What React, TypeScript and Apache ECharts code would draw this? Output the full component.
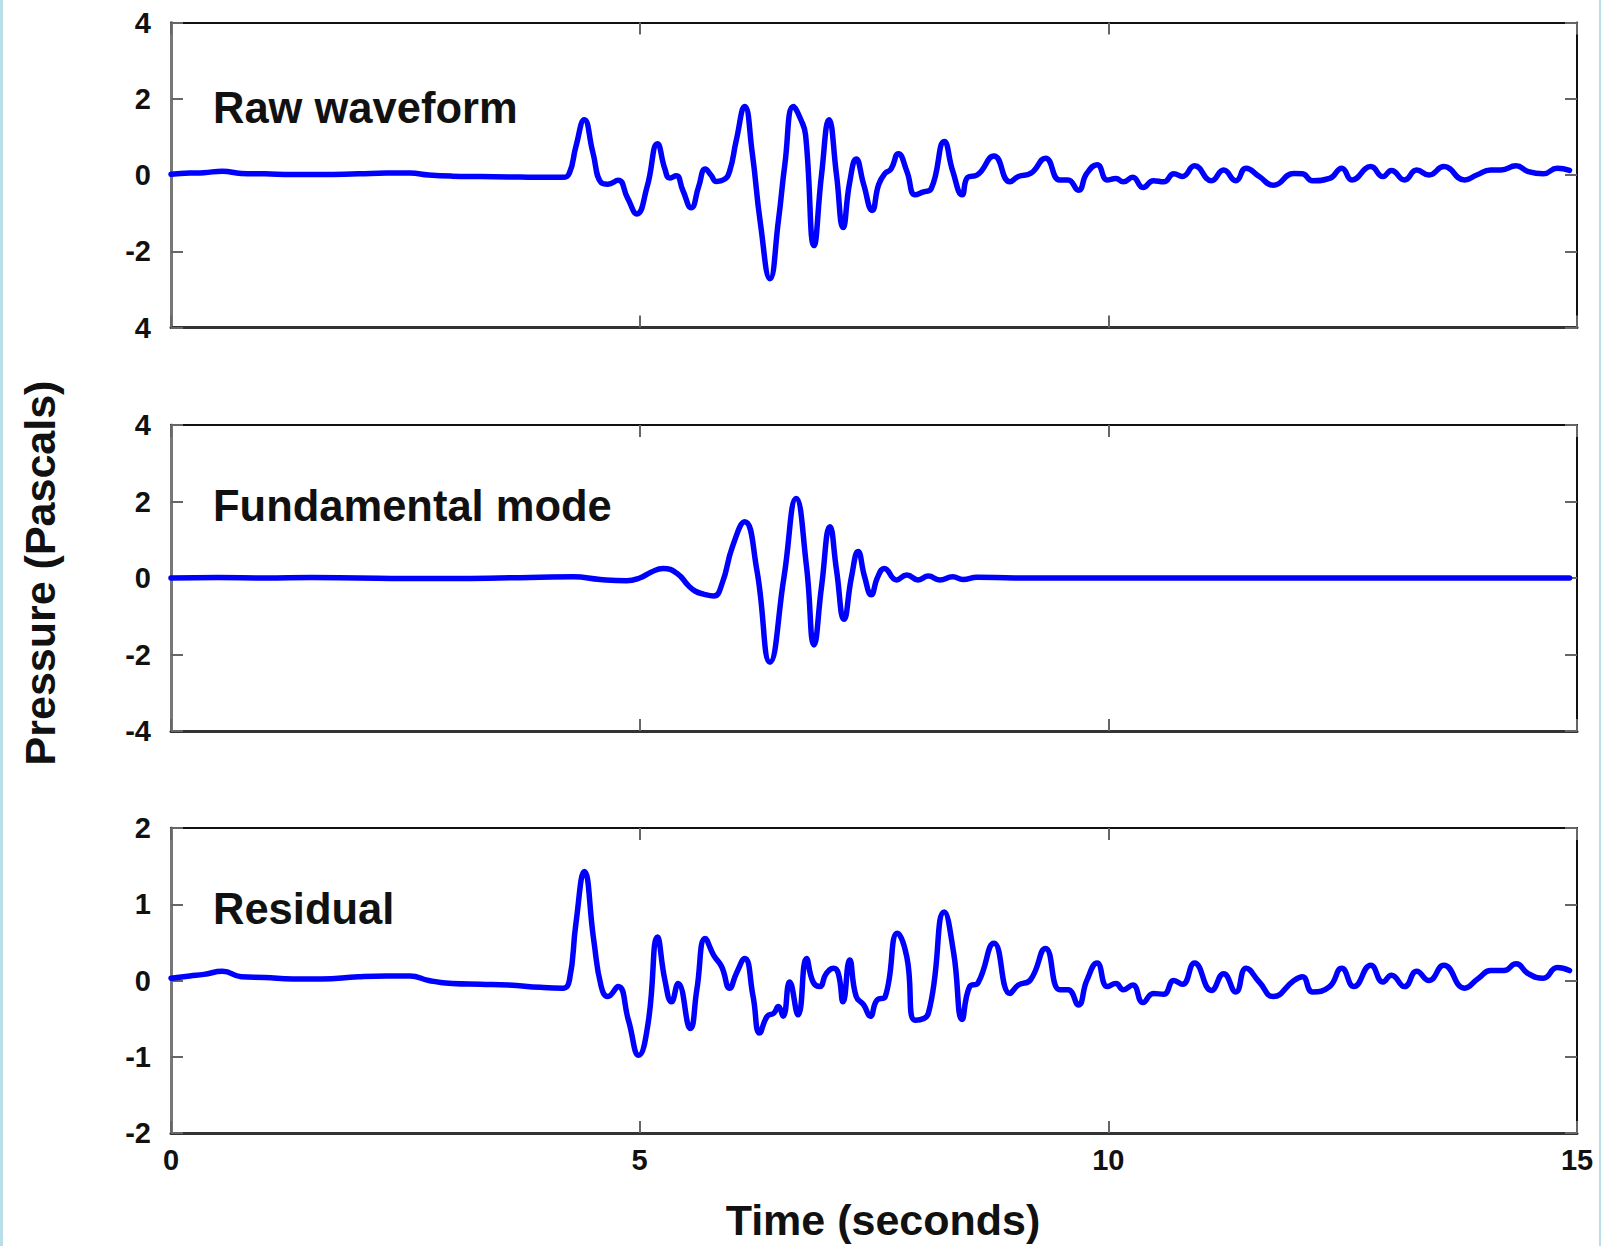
import React, { useEffect, useRef } from "react";
import * as echarts from "echarts";

// ---- Data (time in seconds, pressure in Pascals) ----
const rawWaveform: [number, number][] = [
  [0, 0.02], [0.2, 0.05], [0.35, 0.06], [0.55, 0.1], [0.75, 0.04], [1.0, 0.03], [1.3, 0.01], [1.6, 0.01],
  [2.0, 0.03], [2.3, 0.05], [2.55, 0.05], [2.75, 0.0], [3.0, -0.03], [3.3, -0.04], [3.6, -0.05], [3.9, -0.06],
  [4.18, -0.06], [4.25, 0.05], [4.32, 0.75], [4.41, 1.45], [4.5, 0.6], [4.59, -0.2], [4.66, -0.24], [4.77, -0.14], [4.87, -0.6],
  [4.97, -1.02], [5.08, -0.3], [5.19, 0.82], [5.27, 0.15], [5.32, -0.08], [5.39, -0.02], [5.46, -0.4], [5.55, -0.86],
  [5.63, -0.3], [5.7, 0.16], [5.76, 0.0], [5.82, -0.17], [5.9, -0.12], [5.96, 0.1], [6.03, 0.9], [6.12, 1.8],
  [6.2, 0.6], [6.29, -1.3], [6.39, -2.72], [6.48, -1.2], [6.55, 0.3], [6.64, 1.8], [6.72, 1.45], [6.77, 1.05],
  [6.86, -1.85], [6.94, 0.0], [7.02, 1.45], [7.1, 0.0], [7.17, -1.38], [7.24, -0.2], [7.31, 0.42], [7.39, -0.25],
  [7.48, -0.93], [7.55, -0.25], [7.62, 0.05], [7.68, 0.15], [7.76, 0.56], [7.85, 0.1], [7.94, -0.52], [8.02, -0.45],
  [8.11, -0.36], [8.25, 0.88], [8.34, 0.1], [8.44, -0.52], [8.5, -0.06], [8.6, 0.0], [8.78, 0.5], [8.95, -0.18],
  [9.04, -0.04], [9.17, 0.04], [9.33, 0.44], [9.48, -0.13], [9.57, -0.13], [9.68, -0.4], [9.77, 0.04], [9.88, 0.27],
  [9.99, -0.13], [10.08, -0.09], [10.16, -0.18], [10.26, -0.06], [10.37, -0.33], [10.48, -0.15], [10.59, -0.18],
  [10.7, 0.03], [10.79, -0.04], [10.92, 0.24], [11.1, -0.15], [11.23, 0.13], [11.36, -0.15], [11.47, 0.18],
  [11.61, -0.04], [11.76, -0.27], [11.98, 0.04], [12.07, 0.03], [12.18, -0.15], [12.36, -0.09], [12.49, 0.18],
  [12.6, -0.13], [12.8, 0.22], [12.93, -0.04], [13.02, 0.12], [13.16, -0.13], [13.29, 0.13], [13.42, 0.0],
  [13.58, 0.22], [13.8, -0.13], [13.93, 0.0], [14.08, 0.13], [14.19, 0.13], [14.35, 0.24], [14.48, 0.09],
  [14.64, 0.03], [14.79, 0.18], [14.92, 0.12],
];

const fundamentalMode: [number, number][] = [
  [0, 0.0], [0.5, 0.01], [1.0, 0.0], [1.5, 0.01], [2.0, 0.0], [2.5, -0.01], [3.0, -0.01], [3.5, 0.0],
  [3.94, 0.02], [4.29, 0.03], [4.58, -0.04], [4.86, -0.07], [5.0, 0.0], [5.12, 0.15], [5.25, 0.25], [5.4, 0.12],
  [5.52, -0.2], [5.59, -0.34], [5.68, -0.42], [5.79, -0.47], [5.88, -0.14], [5.99, 0.82], [6.12, 1.47],
  [6.25, 0.21], [6.39, -2.2], [6.54, 0.03], [6.67, 2.08], [6.78, 0.3], [6.86, -1.75], [6.94, -0.23], [7.03, 1.34],
  [7.1, 0.21], [7.18, -1.08], [7.26, 0.03], [7.33, 0.69], [7.4, 0.03], [7.47, -0.44], [7.54, 0.03], [7.61, 0.25],
  [7.74, -0.05], [7.85, 0.08], [7.97, -0.05], [8.08, 0.05], [8.2, -0.05], [8.34, 0.03], [8.45, -0.04], [8.6, 0.02],
  [9.0, 0.0], [10.0, 0.0], [11.0, 0.0], [12.0, 0.0], [13.0, 0.0], [14.0, 0.0], [14.92, 0.0],
];

const residual: [number, number][] = [
  [0, 0.03], [0.2, 0.06], [0.35, 0.08], [0.55, 0.12], [0.75, 0.05], [1.0, 0.04], [1.3, 0.02], [1.6, 0.02],
  [2.0, 0.05], [2.3, 0.06], [2.55, 0.06], [2.75, 0.0], [3.0, -0.04], [3.3, -0.05], [3.6, -0.06], [3.94, -0.09],
  [4.18, -0.1], [4.25, 0.0], [4.32, 0.75], [4.41, 1.43], [4.51, 0.53], [4.59, -0.08], [4.66, -0.21], [4.77, -0.08], [4.88, -0.52],
  [4.99, -0.98], [5.09, -0.56], [5.19, 0.57], [5.27, 0.0], [5.34, -0.28], [5.41, -0.04], [5.54, -0.63], [5.61, -0.12],
  [5.7, 0.55], [5.79, 0.33], [5.875, 0.18], [5.96, -0.1], [6.03, 0.09], [6.12, 0.29], [6.21, -0.21], [6.28, -0.69],
  [6.36, -0.47], [6.43, -0.43], [6.48, -0.34], [6.53, -0.47], [6.6, -0.02], [6.69, -0.45], [6.78, 0.29],
  [6.85, -0.02], [6.92, -0.08], [6.99, 0.09], [7.07, 0.16], [7.12, 0.09], [7.17, -0.28], [7.24, 0.27], [7.31, -0.21],
  [7.39, -0.32], [7.46, -0.47], [7.53, -0.26], [7.62, -0.21], [7.75, 0.62], [7.85, 0.31], [7.94, -0.52],
  [8.08, -0.43], [8.25, 0.9], [8.35, 0.36], [8.44, -0.51], [8.52, -0.08], [8.61, -0.03], [8.78, 0.49], [8.95, -0.17],
  [9.04, -0.06], [9.17, 0.01], [9.33, 0.42], [9.48, -0.12], [9.57, -0.12], [9.68, -0.32], [9.77, 0.0], [9.88, 0.23],
  [9.99, -0.08], [10.08, -0.04], [10.16, -0.12], [10.26, -0.06], [10.37, -0.29], [10.48, -0.17], [10.59, -0.18],
  [10.7, 0.0], [10.79, -0.05], [10.92, 0.23], [11.1, -0.13], [11.23, 0.09], [11.36, -0.15], [11.47, 0.16],
  [11.61, -0.02], [11.76, -0.21], [11.98, 0.0], [12.07, 0.05], [12.18, -0.15], [12.36, -0.08], [12.49, 0.16],
  [12.62, -0.08], [12.8, 0.2], [12.93, -0.02], [13.02, 0.07], [13.16, -0.08], [13.29, 0.12], [13.42, 0.0],
  [13.58, 0.2], [13.8, -0.1], [13.95, 0.03], [14.08, 0.13], [14.22, 0.13], [14.35, 0.22], [14.48, 0.09],
  [14.64, 0.03], [14.79, 0.17], [14.92, 0.13],
];

const panelTitles = ["Raw waveform", "Fundamental mode", "Residual"];
const xTicks = [0, 5, 10, 15];
const rawTicks = [-4, -2, 0, 2, 4];
const rawTickLabels = ["4", "-2", "0", "2", "4"];
const fundTicks = [-4, -2, 0, 2, 4];
const fundTickLabels = ["-4", "-2", "0", "2", "4"];
const resTicks = [-2, -1, 0, 1, 2];
const resTickLabels = ["-2", "-1", "0", "1", "2"];
const xAxisTitle = "Time (seconds)";
const yAxisTitle = "Pressure (Pascals)";

const FONT = "'Liberation Sans', Arial, Helvetica, sans-serif";

export default function App() {
  const ref = useRef<HTMLDivElement>(null);

  useEffect(() => {
    document.body.style.margin = "0";
    if (!ref.current) return;
    const chart = echarts.init(ref.current, undefined, { renderer: "svg" });

    const panels = [
      { top: 22.5, height: 305, data: rawWaveform, ticks: rawTicks, labels: rawTickLabels, min: -4, max: 4, interval: 2, titleY: 108 },
      { top: 425, height: 306, data: fundamentalMode, ticks: fundTicks, labels: fundTickLabels, min: -4, max: 4, interval: 2, titleY: 506 },
      { top: 828, height: 305, data: residual, ticks: resTicks, labels: resTickLabels, min: -2, max: 2, interval: 1, titleY: 909 },
    ];

    const tickStyle = { color: "#666", width: 2 };
    const xAxes: any[] = [];
    const yAxes: any[] = [];
    const series: any[] = [];

    panels.forEach((p, i) => {
      const last = i === panels.length - 1;
      xAxes.push({
        type: "value", gridIndex: i, position: "bottom", min: xTicks[0], max: xTicks[xTicks.length - 1], interval: 5,
        axisLine: { show: true, onZero: false, lineStyle: { color: "#333", width: 3 } },
        axisTick: { show: true, inside: true, length: 12, lineStyle: tickStyle },
        axisLabel: { show: last, margin: 12, fontFamily: FONT, fontWeight: "bold", fontSize: 29, color: "#111" },
        splitLine: { show: false },
      });
      xAxes.push({
        type: "value", gridIndex: i, position: "top", min: xTicks[0], max: xTicks[xTicks.length - 1], interval: 5,
        axisLine: { show: true, onZero: false, lineStyle: { color: "#111", width: 2 } },
        axisTick: { show: true, inside: true, length: 12, lineStyle: tickStyle },
        axisLabel: { show: false },
        splitLine: { show: false },
      });
      yAxes.push({
        type: "value", gridIndex: i, position: "left", min: p.min, max: p.max, interval: p.interval,
        axisLine: { show: true, onZero: false, lineStyle: { color: "#777", width: 3 } },
        axisTick: { show: true, inside: true, length: 12, lineStyle: tickStyle },
        axisLabel: {
          show: true, margin: 20, fontFamily: FONT, fontWeight: "bold", fontSize: 29, color: "#111",
          formatter: (v: number) => {
            const k = p.ticks.indexOf(v);
            return k >= 0 ? p.labels[k] : "";
          },
        },
        splitLine: { show: false },
      });
      yAxes.push({
        type: "value", gridIndex: i, position: "right", min: p.min, max: p.max, interval: p.interval,
        axisLine: { show: true, onZero: false, lineStyle: { color: "#111", width: 2 } },
        axisTick: { show: true, inside: true, length: 12, lineStyle: tickStyle },
        axisLabel: { show: false },
        splitLine: { show: false },
      });
      series.push({
        type: "line", xAxisIndex: 2 * i, yAxisIndex: 2 * i, data: p.data,
        showSymbol: false, smooth: 0.5, clip: true,
        lineStyle: { color: "#0000ff", width: 5.5, join: "round", cap: "round" },
      });
    });

    const graphics: any[] = [
      { type: "rect", shape: { x: 0, y: 0, width: 3, height: 1246 }, style: { fill: "#b8dfe8" }, silent: true },
      { type: "rect", shape: { x: 1599, y: 0, width: 2, height: 1246 }, style: { fill: "#b8dfe8" }, silent: true },
      ...panels.map((p, i) => ({
        type: "text", x: 213, y: p.titleY,
        style: { text: panelTitles[i], fontFamily: FONT, fontWeight: "bold", fontSize: 43.5, fill: "#111", textVerticalAlign: "middle", textAlign: "left" },
      })),
      {
        type: "text", x: 883, y: 1220,
        style: { text: xAxisTitle, fontFamily: FONT, fontWeight: "bold", fontSize: 43, fill: "#111", textAlign: "center", textVerticalAlign: "middle" },
      },
      {
        type: "text", x: 40, y: 573, rotation: Math.PI / 2,
        style: { text: yAxisTitle, fontFamily: FONT, fontWeight: "bold", fontSize: 43, fill: "#111", textAlign: "center", textVerticalAlign: "middle" },
      },
    ];

    chart.setOption({
      animation: false,
      backgroundColor: "#ffffff",
      grid: panels.map((p) => ({ left: 171, right: 24, top: p.top, height: p.height, containLabel: false })),
      xAxis: xAxes,
      yAxis: yAxes,
      series,
      graphic: graphics,
    });

    return () => chart.dispose();
  }, []);

  return <div ref={ref} style={{ position: "fixed", left: 0, top: 0, width: 1601, height: 1246 }} />;
}
